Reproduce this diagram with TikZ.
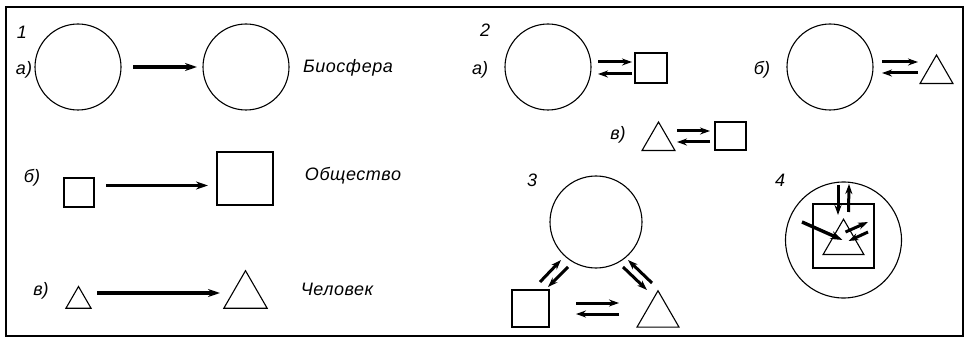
\documentclass[tikz,border=0pt]{standalone}
\usepackage{fontspec}
\setmainfont{Liberation Sans}
\usetikzlibrary{positioning, calc, arrows.meta, shapes.geometric}

\begin{document}
\begin{tikzpicture}[
  x=1pt, y=-1pt,
  every node/.style={inner sep=0pt, outer sep=0pt},
  ring/.style={circle, draw, line width=1.1pt},
  box/.style={rectangle, draw, line width=1.1pt},
  tri/.style={regular polygon, regular polygon sides=3, draw, line width=1.1pt},
  tag/.style={font=\itshape\fontsize{18}{18}\selectfont},
  word/.style={font=\itshape\fontsize{18}{18}\selectfont\addfontfeatures{LetterSpace=3}},
  bigarrow/.style={line width=3.4pt, -{Stealth[length=12pt, width=8pt]}},
  pairarrow/.style={line width=3pt, -{Stealth[length=10pt, width=7pt]}},
]
\useasboundingbox (0,0) rectangle (966,339);

% Frame
\draw[line width=1.8pt] (6,7) rectangle (963,336);

% Panel 1
\node[tag] (n1)  at (22,32)  {1};
\node[tag] (l1a) at (24,70)  {а)};
\node[tag] (l1b) at (32,178) {б)};
\node[tag] (l1c) at (41,291) {в)};

\node[ring, minimum size=86pt] (c1a) at (78,67)  {};
\node[ring, minimum size=86pt] (c1b) at (246,67) {};
\node[word] (bio) at (348,68) {Биосфера};

\node[box, minimum width=30pt, minimum height=29pt] (s1a) at (79,192.5)  {};
\node[box, minimum width=56pt, minimum height=53pt] (s1b) at (245,178.5) {};
\node[word] (soc) at (353,176) {Общество};

\node[tri, minimum size=29pt] (t1a) at (78.5,301)  {};
\node[tri, minimum size=50pt] (t1b) at (245.5,295.7) {};
\node[word] (man) at (337,289) {Человек};

\draw[bigarrow, shorten <=12pt, shorten >=6pt] (c1a) -- (c1b);
\draw[bigarrow] ([xshift=12pt, yshift=7pt]s1a.east) -- ([xshift=-9pt, yshift=-7pt]s1b.west);
\draw[bigarrow] ([xshift=18.5pt, yshift=8pt]t1a.center) -- ([xshift=-25.5pt, yshift=2.7pt]t1b.center);

% Panel 2
\node[tag] (n2)  at (485,30)  {2};
\node[tag] (l2a) at (480,70)  {а)};
\node[tag] (l2b) at (762,70)  {б)};
\node[tag] (l2c) at (618,135) {в)};

\node[ring, minimum size=86pt] (c2a) at (548,67) {};
\node[box, minimum width=32pt, minimum height=30pt] (q2a) at (651,68) {};
\draw[pairarrow] ([xshift=7pt, yshift=5pt]c2a.east) -- ([xshift=-3pt, yshift=6pt]q2a.west);
\draw[pairarrow] ([xshift=-3pt, yshift=-6pt]q2a.west) -- ([xshift=7pt, yshift=-7pt]c2a.east);

\node[ring, minimum size=86pt] (c2b) at (830,67) {};
\node[tri, minimum size=38pt] (t2b) at (936.5,74) {};
\draw[pairarrow] ([xshift=9pt, yshift=5pt]c2b.east) -- ([xshift=-18.5pt, yshift=12pt]t2b.center);
\draw[pairarrow] ([xshift=-18.5pt, yshift=1pt]t2b.center) -- ([xshift=9pt, yshift=-6pt]c2b.east);

\node[tri, minimum size=38pt] (t2c) at (658.5,141) {};
\node[box, minimum width=31pt, minimum height=28pt] (q2c) at (730.5,136) {};
\draw[pairarrow] ([xshift=18.5pt, yshift=10pt]t2c.center) -- ([xshift=-5pt, yshift=5pt]q2c.west);
\draw[pairarrow] ([xshift=-5pt, yshift=-6pt]q2c.west) -- ([xshift=18.5pt, yshift=-1pt]t2c.center);

% Panel 3
\node[tag] (n3) at (532,180) {3};
\node[ring, minimum size=92pt] (c3) at (596,222) {};
\node[box, minimum width=37pt, minimum height=37pt] (q3) at (530.5,308.5) {};
\node[tri, minimum size=48.5pt] (t3) at (658,315) {};

\draw[pairarrow] ([xshift=-9pt, yshift=8pt]q3.north east) -- ([xshift=-35pt, yshift=-38pt]c3.center);
\draw[pairarrow] ([xshift=-28pt, yshift=-45pt]c3.center) -- ([xshift=-1pt, yshift=3pt]q3.north east);
\draw[pairarrow] ([xshift=27pt, yshift=-45pt]c3.center) -- ([xshift=-11pt, yshift=25pt]t3.center);
\draw[pairarrow] ([xshift=-6pt, yshift=32pt]t3.center) -- ([xshift=32pt, yshift=-38pt]c3.center);
\draw[pairarrow] ([xshift=27pt, yshift=5.5pt]q3.east) -- ([xshift=-39pt, yshift=12pt]t3.center);
\draw[pairarrow] ([xshift=-39pt, yshift=1pt]t3.center) -- ([xshift=27pt, yshift=-5.5pt]q3.east);

% Panel 4
\node[tag] (n4) at (780,180) {4};
\node[ring, minimum size=116pt] (c4) at (843.5,240) {};
\node[box, minimum width=61pt, minimum height=64pt] (q4) at (843.5,236) {};
\node[tri, minimum size=47pt] (t4) at (843.5,242.7) {};
\coordinate (env) at (802,222);
\coordinate (out) at (868,222);
\coordinate (inn) at (868,232);

\draw[pairarrow] ([xshift=-5.5pt, yshift=55pt]c4.center) -- ([xshift=-5.5pt, yshift=27.7pt]t4.center);
\draw[pairarrow] ([xshift=5pt, yshift=30.7pt]t4.center) -- ([xshift=5.5pt, yshift=56pt]c4.center);
\draw[bigarrow] (env) -- ([xshift=-1pt, yshift=2.7pt]t4.center);
\draw[pairarrow] ([xshift=2pt, yshift=10.7pt]t4.center) -- (out);
\draw[pairarrow] (inn) -- ([xshift=5pt, yshift=1.7pt]t4.center);

\end{tikzpicture}
\end{document}
